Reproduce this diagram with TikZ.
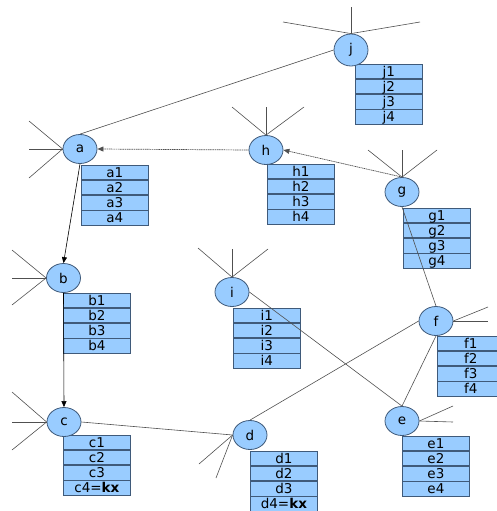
\documentclass[tikz,border=0pt]{standalone}
\usepackage{fontspec}
\setmainfont{DejaVu Sans}
\usetikzlibrary{shapes.geometric,arrows.meta}
\definecolor{boxfill}{HTML}{99CCFF}
\definecolor{boxline}{HTML}{3F5A7A}
\definecolor{wire}{HTML}{505050}
\tikzset{
  state/.style={ellipse, draw=boxline, fill=boxfill, line width=0.8pt,
    minimum width=34pt, minimum height=29pt, inner sep=0pt, font=\fontsize{13.5}{15}\selectfont},
  cell/.style={rectangle, draw=boxline, fill=boxfill, line width=0.8pt,
    minimum width=67pt, minimum height=14.3pt, inner sep=0pt,
    text height=10pt, text depth=0.5pt, font=\fontsize{13.5}{15}\selectfont},
  wireline/.style={draw=wire, line width=0.6pt},
  arrowline/.style={draw=black, line width=0.6pt, -{Triangle[length=6pt,width=5pt]}},
  dotline/.style={draw=wire, line width=0.7pt, dash pattern=on 1.2pt off 0.6pt,
    -{Triangle[length=6pt,width=5pt]}},
}
% record of four rows: name, left, top, row texts
\newcommand\recordbox[7]{%
  \node[cell, anchor=north west] (#1-1) at (#2,#3) {#4};
  \node[cell, anchor=north] (#1-2) at (#1-1.south) {#5};
  \node[cell, anchor=north] (#1-3) at (#1-2.south) {#6};
  \node[cell, anchor=north] (#1-4) at (#1-3.south) {#7};
}
\begin{document}
\begin{tikzpicture}[x=1pt,y=-1pt]
\useasboundingbox (0,0) rectangle (497,511);

% loose ends of the spokes
\coordinate (j1s) at (283,22);  \coordinate (j2s) at (351,7);   \coordinate (j3s) at (420,22);
\coordinate (a1s) at (29,121);  \coordinate (a2s) at (29,149);  \coordinate (a3s) at (29,178);
\coordinate (h1s) at (232,107); \coordinate (h2s) at (266,107); \coordinate (h3s) at (304,107);
\coordinate (g1s) at (368,150); \coordinate (g2s) at (402,150); \coordinate (g3s) at (437,150);
\coordinate (b1s) at (12,250);  \coordinate (b2s) at (12,278);  \coordinate (b3s) at (12,305);
\coordinate (i1s) at (198,248); \coordinate (i2s) at (232,249); \coordinate (i3s) at (268,249);
\coordinate (f1s) at (488,307); \coordinate (f2s) at (488,321);
\coordinate (c1s) at (12,392);  \coordinate (c2s) at (12,422);  \coordinate (c3s) at (12,450);
\coordinate (d1s) at (199,464); \coordinate (d2s) at (216,478);
\coordinate (e1s) at (453,406); \coordinate (e2s) at (453,422);

% records
\recordbox{jr}{355}{64}{j1}{j2}{j3}{j4}
\recordbox{ar}{81}{165}{a1}{a2}{a3}{a4}
\recordbox{hr}{267}{164}{h1}{h2}{h3}{h4}
\recordbox{gr}{403}{208}{g1}{g2}{g3}{g4}
\recordbox{br}{63}{293}{b1}{b2}{b3}{b4}
\recordbox{ir}{233}{308}{i1}{i2}{i3}{i4}
\recordbox{fr}{437}{336}{f1}{f2}{f3}{f4}
\recordbox{cr}{63}{435}{c1}{c2}{c3}{c4=\textbf{kx}}
\recordbox{dr}{250}{451}{d1}{d2}{d3}{d4=\textbf{kx}}
\recordbox{er}{402}{436}{e1}{e2}{e3}{e4}

% states
\node[state, minimum height=32pt] (j) at (351,50) {j};
\node[state] (a) at (80,149) {a};
\node[state] (h) at (266,150) {h};
\node[state] (g) at (402,192) {g};
\node[state] (b) at (63.5,278) {b};
\node[state] (i) at (232,292) {i};
\node[state] (f) at (436,321) {f};
\node[state] (e) at (402,421) {e};
\node[state] (d) at (250,435) {d};
\node[state] (c) at (64,422) {c};

% spokes
\foreach \k in {1,2,3} {
  \draw[wireline] (j.north) -- (j\k s);
  \draw[wireline] (a.west) -- (a\k s);
  \draw[wireline] (h.north) -- (h\k s);
  \draw[wireline] (g.north) -- (g\k s);
  \draw[wireline] (b.west) -- (b\k s);
  \draw[wireline] (i.north) -- (i\k s);
  \draw[wireline] (c.west) -- (c\k s);
}
\foreach \k in {1,2} {
  \draw[wireline] (f.east) -- (f\k s);
  \draw[wireline] (d.west) -- (d\k s);
  \draw[wireline] (e.east) -- (e\k s);
}

% connectors
\draw[wireline] (j.west) -- (a.north);
\draw[wireline] (c.east) -- (d.west);
\draw[wireline] (d.north) -- (f.west);
\draw[wireline] (i.east) -- (e.north);
\draw[wireline] (f.south) -- (e.north);
\draw[wireline] (g.south) -- (f.north);
\draw[arrowline] (a.south) -- (b.north);
\draw[arrowline] (b.south) -- (c.north);
\draw[dotline] (h.west) -- (a.east);
\draw[dotline] (g.north) -- (h.east);
\end{tikzpicture}
\end{document}
